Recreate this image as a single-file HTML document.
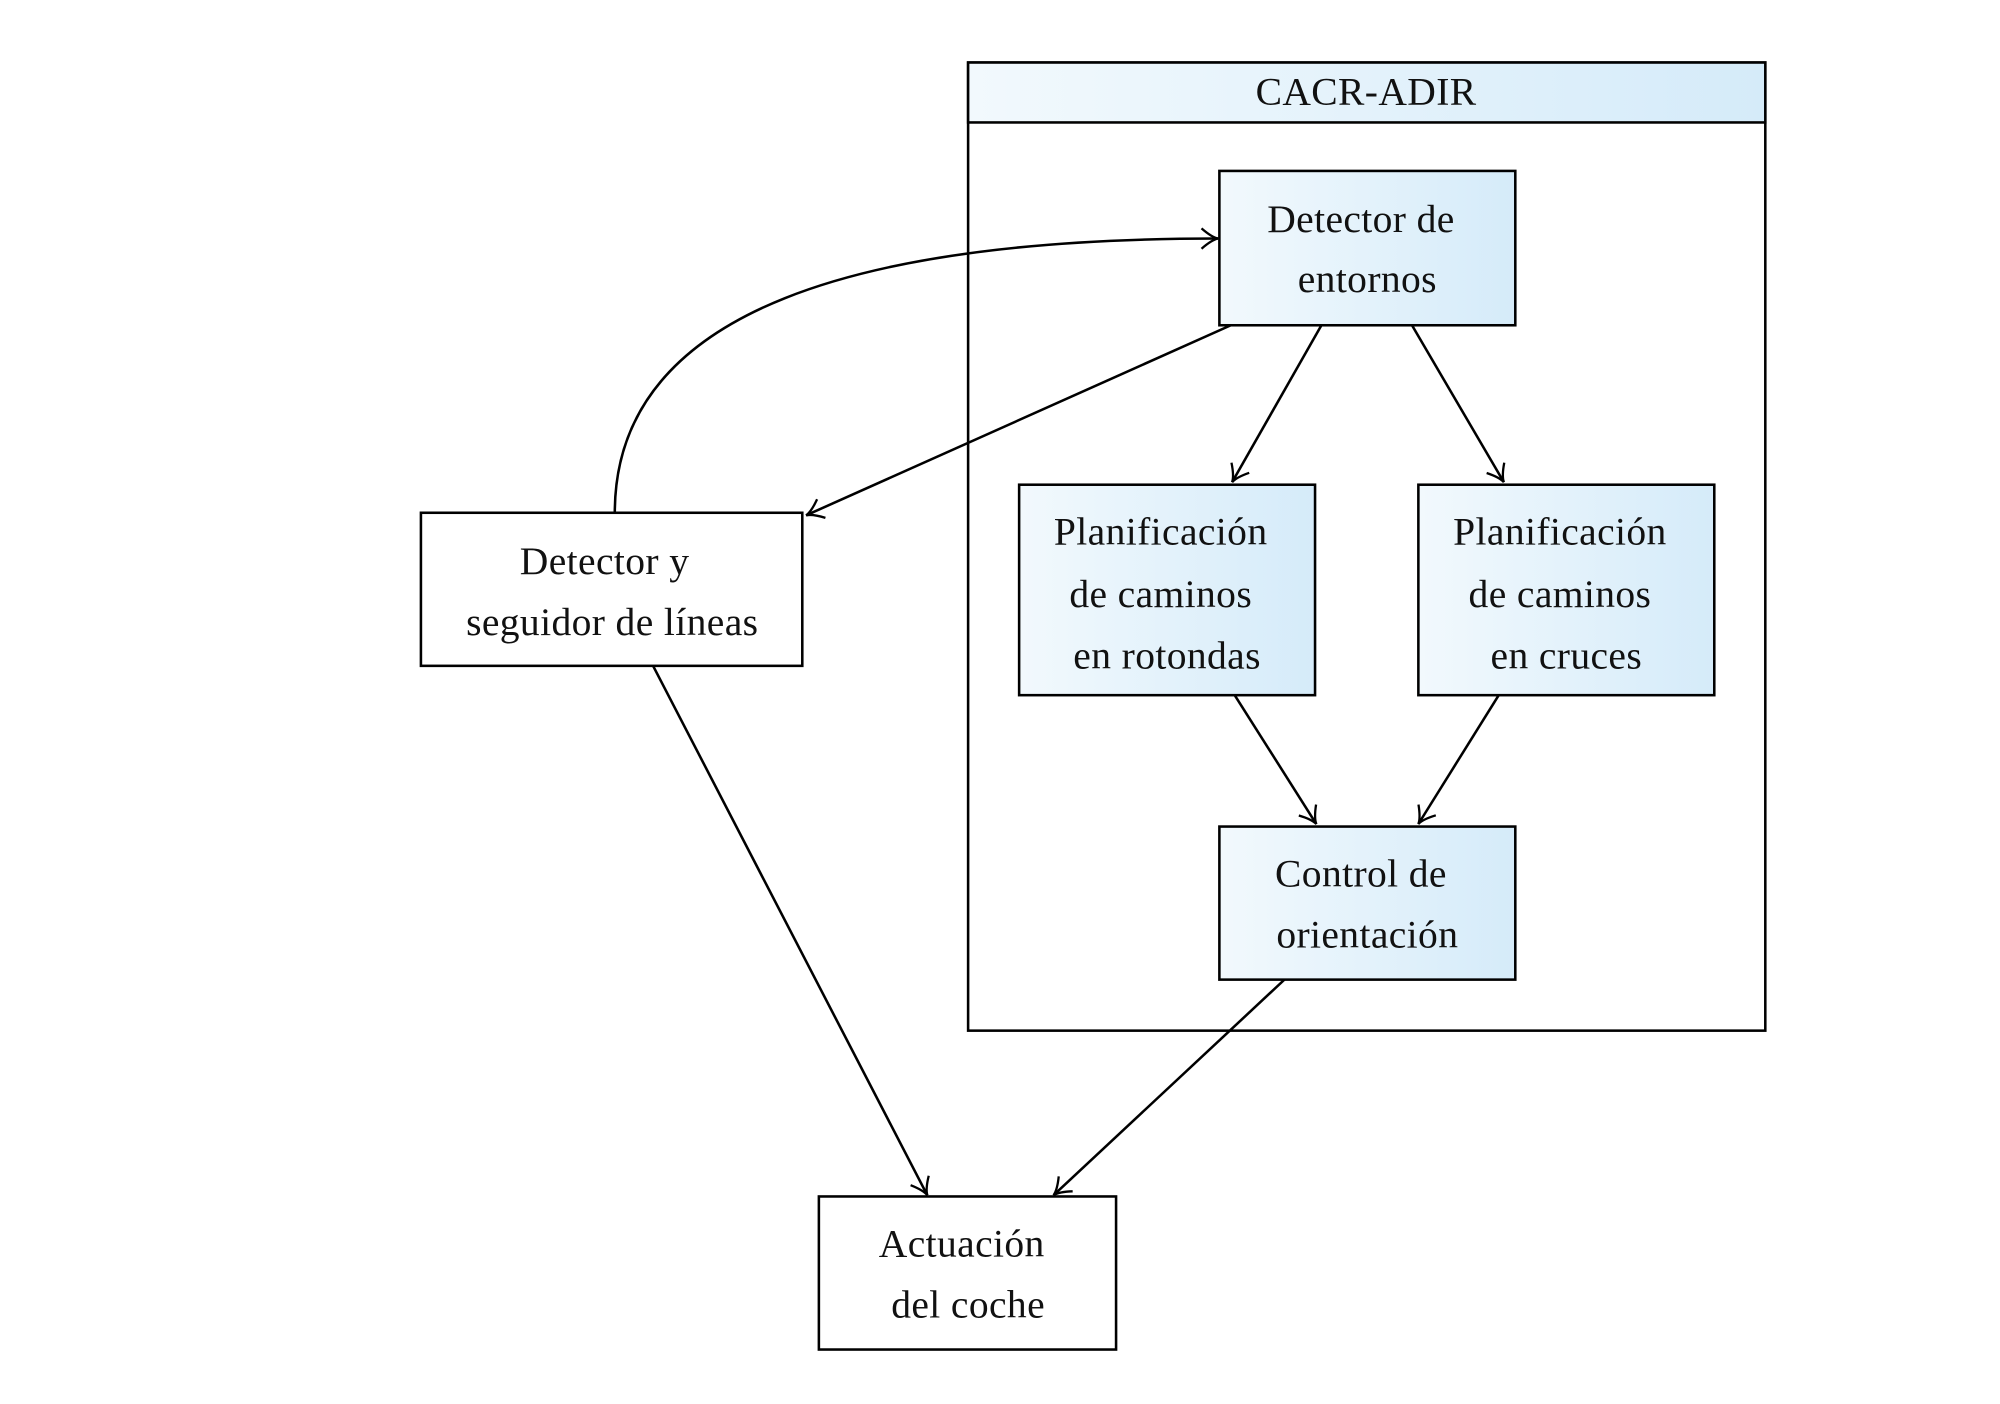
<!DOCTYPE html>
<html><head><meta charset="utf-8"><style>
html,body{margin:0;padding:0;background:#fff}
svg{display:block}
text{font-family:"Liberation Serif",serif;font-size:31px;fill:#111;text-anchor:middle;letter-spacing:0.3px}
</style></head><body>
<svg width="2000" height="1404" viewBox="0 0 1568 1100.7" preserveAspectRatio="none" xmlns="http://www.w3.org/2000/svg">
<defs>
<linearGradient id="g" x1="0" x2="1" y1="0" y2="0"><stop offset="0" stop-color="#f2f9fd"/><stop offset="1" stop-color="#d5ebf9"/></linearGradient>
<marker id="a" viewBox="-14 -9 16 18" refX="0" refY="0" markerWidth="16" markerHeight="18" markerUnits="userSpaceOnUse" orient="auto">
<path d="M-13,-8 Q-5,-1 0,0 Q-5,1 -13,8" fill="none" stroke="#000" stroke-width="1.8"/></marker>
</defs>
<g fill="none" stroke="#000" stroke-width="2">
<rect x="759" y="49" width="625" height="759" fill="#fff"/>
<rect x="759" y="49" width="625" height="47" fill="url(#g)"/>
<rect x="956" y="134" width="232" height="121" fill="url(#g)"/>
<rect x="799" y="380" width="232" height="165" fill="url(#g)"/>
<rect x="1112" y="380" width="232" height="165" fill="url(#g)"/>
<rect x="956" y="648" width="232" height="120" fill="url(#g)"/>
<rect x="330" y="402" width="299" height="120" fill="#fff"/>
<rect x="642" y="938" width="233" height="120" fill="#fff"/>
<g marker-end="url(#a)">
<path d="M482,402 C482,240 680,187 955,187"/>
<path d="M965,255 L632,404"/>
<path d="M1036,255 L966,378"/>
<path d="M1107,255 L1179,378"/>
<path d="M968,545 L1032,646"/>
<path d="M1175,545 L1112,646"/>
<path d="M1007,768 L826,937"/>
<path d="M512,522 L727,937"/>
</g>
</g>
<text x="1071" y="82">CACR-ADIR</text>
<text x="1067" y="182">Detector de</text>
<text x="1072" y="229">entornos</text>
<text x="910" y="427">Planificación</text>
<text x="910" y="476">de caminos</text>
<text x="915" y="524">en rotondas</text>
<text x="1223" y="427">Planificación</text>
<text x="1223" y="476">de caminos</text>
<text x="1228" y="524">en cruces</text>
<text x="1067" y="695">Control de</text>
<text x="1072" y="743">orientación</text>
<text x="474" y="450">Detector y</text>
<text x="480" y="498">seguidor de líneas</text>
<text x="754" y="985">Actuación</text>
<text x="759" y="1033">del coche</text>
</svg>
</body></html>
